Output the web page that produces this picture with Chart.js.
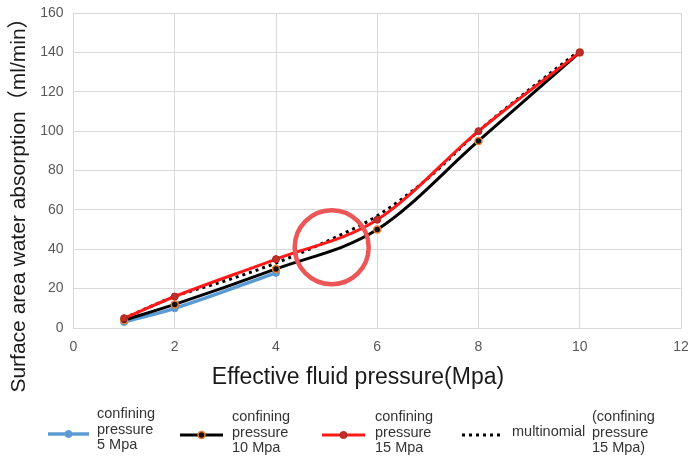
<!DOCTYPE html>
<html>
<head>
<meta charset="utf-8">
<script src="https://cdn.jsdelivr.net/npm/chart.js@4.4.1/dist/chart.umd.min.js"></script>
<style>
  body { margin: 0; background: #fff; }
</style>
</head>
<body>
<canvas id="chart" width="688" height="458"></canvas>
<script>
// effective fluid pressure (Mpa) vs. surface area water absorption (ml/min)
const pressure5 = [1, 2, 4];
const absorption5 = [3, 10, 28];
const pressure10 = [1, 2, 4, 6, 8, 10];
const absorption10 = [4, 12, 30, 50, 95, 140];
const pressure15 = [1, 2, 4, 6, 8, 10];
const absorption15 = [5, 16, 35, 55, 100, 140];
// multinomial trend of the 15 Mpa series, read at whole steps
const trendPressure = [1, 2, 3, 4, 5, 6, 7, 8, 9, 10];
const trendAbsorption = [5, 16, 24, 33, 44, 57, 76, 100, 121, 141];
// the red ring marking the spot where the curves separate
const ringCenter = [5.1, 41];

const xTitle = 'Effective fluid pressure(Mpa)';
const yTitle = 'Surface area water absorption（ml/min）';
const legendLabels = [
  ['confining', 'pressure', '5 Mpa'],
  ['confining', 'pressure', '10 Mpa'],
  ['confining', 'pressure', '15 Mpa'],
  ['multinomial']
];
const trendNote = ['(confining', 'pressure', '15 Mpa)'];

function toPoints(xs, ys) {
  return xs.map((x, i) => ({x: x, y: ys[i]}));
}

const FONT = '"Liberation Sans", Arial, "Noto Sans CJK SC", sans-serif';

// titles + the bottom legend, drawn by hand so the multi-line labels fit
const decorations = {
  id: 'decorations',
  beforeDraw(chart) {
    const ctx = chart.ctx;
    ctx.save();
    ctx.fillStyle = '#fff';
    ctx.fillRect(0, 0, chart.width, chart.height);
    ctx.restore();
  },
  afterDraw(chart) {
    const ctx = chart.ctx;
    ctx.save();
    ctx.fillStyle = '#1a1a1a';
    ctx.textAlign = 'center';
    ctx.textBaseline = 'middle';
    ctx.font = '23px ' + FONT;
    ctx.fillText(xTitle, 358, 378);

    ctx.translate(19, 200);
    ctx.rotate(-Math.PI / 2);
    ctx.font = '21px ' + FONT;
    ctx.fillText(yTitle, 0, 0);
    ctx.restore();

    // legend
    const spots = [
      {x0: 48, x1: 89, y: 434, tx: 97, ty: 414},
      {x0: 180, x1: 223, y: 435, tx: 232, ty: 417},
      {x0: 322, x1: 365, y: 435, tx: 375, ty: 417},
      {x0: 462, x1: 503, y: 435, tx: 512, ty: 432}
    ];
    ctx.save();
    ctx.font = '14.5px ' + FONT;
    ctx.textAlign = 'left';
    ctx.textBaseline = 'middle';
    legendLabels.forEach((lines, i) => {
      const ds = chart.data.datasets[i];
      const s = spots[i];
      ctx.save();
      ctx.strokeStyle = ds.borderColor;
      ctx.lineWidth = ds.borderWidth;
      ctx.setLineDash(ds.borderDash || []);
      ctx.beginPath();
      ctx.moveTo(s.x0, s.y);
      ctx.lineTo(s.x1, s.y);
      ctx.stroke();
      if (ds.pointRadius) {
        ctx.setLineDash([]);
        ctx.fillStyle = ds.pointBackgroundColor;
        ctx.strokeStyle = ds.pointBorderColor;
        ctx.lineWidth = ds.pointBorderWidth;
        ctx.beginPath();
        ctx.arc((s.x0 + s.x1) / 2, s.y, ds.pointRadius, 0, Math.PI * 2);
        ctx.fill();
        ctx.stroke();
      }
      ctx.restore();
      ctx.fillStyle = '#333';
      lines.forEach((t, k) => ctx.fillText(t, s.tx, s.ty + k * 15.5));
    });
    trendNote.forEach((t, k) => ctx.fillText(t, 592, 417 + k * 15.5));
    ctx.restore();
  }
};

new Chart(document.getElementById('chart'), {
  type: 'line',
  data: {
    datasets: [{
      label: 'confining pressure 5 Mpa',
      data: toPoints(pressure5, absorption5),
      borderColor: '#5b9bd5',
      borderWidth: 3.5,
      pointRadius: 3.5,
      pointBackgroundColor: '#5b9bd5',
      pointBorderColor: '#5b9bd5',
      pointBorderWidth: 1,
      cubicInterpolationMode: 'monotone',
      order: 5
    }, {
      label: 'confining pressure 10 Mpa',
      data: toPoints(pressure10, absorption10),
      borderColor: '#000',
      borderWidth: 3,
      pointRadius: 3.5,
      pointBackgroundColor: '#111',
      pointBorderColor: '#ed7d31',
      pointBorderWidth: 1.5,
      cubicInterpolationMode: 'monotone',
      order: 4
    }, {
      label: 'confining pressure 15 Mpa',
      data: toPoints(pressure15, absorption15),
      borderColor: '#ff1a1a',
      borderWidth: 3,
      pointRadius: 3.5,
      pointBackgroundColor: '#c0302a',
      pointBorderColor: '#b02020',
      pointBorderWidth: 1,
      cubicInterpolationMode: 'monotone',
      order: 2
    }, {
      label: 'multinomial (confining pressure 15 Mpa)',
      data: toPoints(trendPressure, trendAbsorption),
      borderColor: '#000',
      borderWidth: 3,
      borderDash: [3, 4],
      pointRadius: 0,
      cubicInterpolationMode: 'monotone',
      order: 3
    }, {
      type: 'bubble',
      label: 'highlight',
      data: [{x: ringCenter[0], y: ringCenter[1], r: 37}],
      backgroundColor: 'rgba(0,0,0,0)',
      borderColor: '#ec5656',
      borderWidth: 4.5,
      order: 1
    }]
  },
  options: {
    responsive: false,
    animation: false,
    events: [],
    layout: { autoPadding: false, padding: { top: 13, right: 7, left: 0, bottom: 0 } },
    plugins: {
      legend: { display: false },
      tooltip: { enabled: false }
    },
    scales: {
      x: {
        type: 'linear',
        min: 0,
        max: 12,
        ticks: {
          stepSize: 2,
          padding: 11,
          color: '#595959',
          font: { family: FONT, size: 14 }
        },
        grid: { color: '#d9d9d9', drawTicks: false },
        border: { color: '#d9d9d9' },
        afterFit(scale) {
          scale.height = 130;
          scale.paddingLeft = 0;
          scale.paddingRight = 0;
        }
      },
      y: {
        min: 0,
        max: 160,
        ticks: {
          stepSize: 20,
          padding: 10,
          color: '#595959',
          font: { family: FONT, size: 14 }
        },
        grid: { color: '#d9d9d9', drawTicks: false },
        border: { color: '#d9d9d9' },
        afterFit(scale) {
          scale.width = 73.5;
          scale.paddingTop = 0;
          scale.paddingBottom = 0;
        }
      }
    }
  },
  plugins: [decorations]
});
</script>
</body>
</html>
